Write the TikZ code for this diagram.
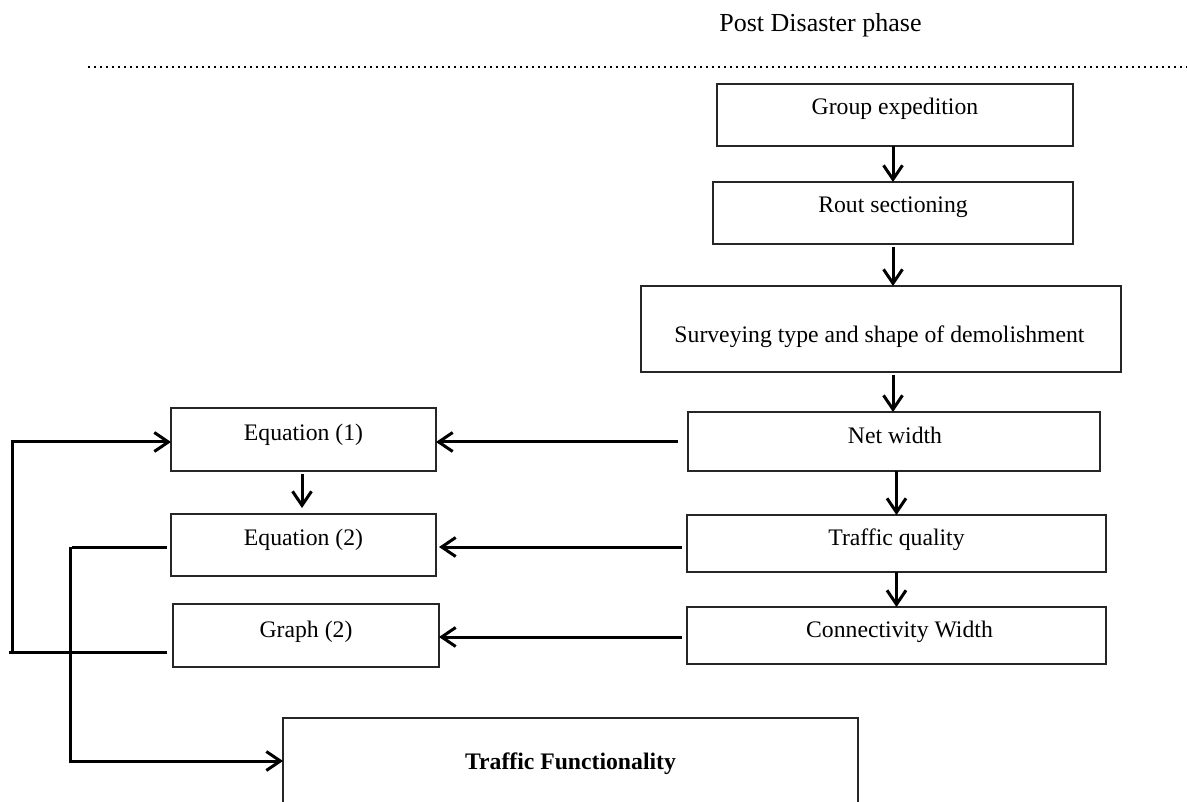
\documentclass[tikz,border=0pt]{standalone}
\usepackage{fontspec}
\setmainfont{Liberation Serif}
\usetikzlibrary{arrows.meta,calc}
\begin{document}
\begin{tikzpicture}[x=1pt,y=-1pt,
  box/.style={draw=black!85,line width=1.4pt,inner sep=0pt,outer sep=0pt,rectangle},
  txt/.style={anchor=base,inner sep=0pt,font=\fontsize{23.7}{28}\selectfont},
  conn/.style={line width=3pt,black},
  arr/.style={conn,-{Straight Barb[length=14pt,width=19pt,line width=3pt]}},
  dotline/.style={line width=2.6pt,dash pattern=on 2.4pt off 3.6pt,black}]
\clip (0,0) rectangle (1187,802);
\fill[white] (0,0) rectangle (1187,802);
% title and separator
\node[anchor=base,inner sep=0pt,font=\fontsize{26}{30}\selectfont] (post) at (820.5,32) {Post Disaster phase};
\coordinate (dl) at (88,67);
\coordinate (dr) at (1187,67);
\draw[dotline] (dl) -- (dr);
% right column boxes
\node[box,minimum width=356,minimum height=62] (g1) at (895,115) {};
\node[box,minimum width=360,minimum height=62] (g2) at (893,213) {};
\node[box,minimum width=480,minimum height=86] (g3) at (881,329) {};
\node[box,minimum width=412,minimum height=59] (g4) at (894,441.5) {};
\node[box,minimum width=419,minimum height=57] (g5) at (896.5,543.5) {};
\node[box,minimum width=419,minimum height=57] (g6) at (896.5,635.5) {};
% left column boxes
\node[box,minimum width=265,minimum height=63] (e1) at (303.5,439.5) {};
\node[box,minimum width=265,minimum height=62] (e2) at (303.5,545) {};
\node[box,minimum width=266,minimum height=63] (gr) at (306,635.5) {};
\node[box,minimum width=575,minimum height=100] (tf) at (570.5,768) {};
% texts
\node[txt] (g1t) at (895,115) {Group expedition};
\node[txt] (g2t) at (893,213) {Rout sectioning};
\node[txt] (g3t) at (879.5,343) {Surveying type and shape of demolishment};
\node[txt] (g4t) at (895,443) {Net width};
\node[txt] (g5t) at (896.5,545) {Traffic quality};
\node[txt] (g6t) at (899.5,637) {Connectivity Width};
\node[txt] (e1t) at (303.5,440) {Equation (1)};
\node[txt] (e2t) at (303.5,545) {Equation (2)};
\node[txt] (grt) at (306,637) {Graph (2)};
\node[txt,font=\fontsize{23.7}{28}\selectfont\bfseries] (tft) at (570.5,769) {Traffic Functionality};
% vertical arrows, right column
\draw[arr] (g2.north |- g1.south) -- (g2.north);
\draw[arr] ($(g2.south)+(0,3)$) -- (g2.south |- g3.north);
\draw[arr] ($(g3.south -| g2.south)+(0,3)$) -- (g4.north -| g2.south);
\draw[arr] (g4.south -| g5.north) -- (g5.north);
\draw[arr] (g5.south) -- (g6.north);
% vertical arrow, left column
\draw[arr] ($(e1.south)+(-1.5,3)$) -- ($(e2.north)+(-1.5,-6)$);
% horizontal arrows
\coordinate (a4) at ($(g4.west)+(-10,0.5)$);
\coordinate (a5) at ($(g5.west)+(-5,3.5)$);
\coordinate (a6) at ($(g6.west)+(-5,1.5)$);
\draw[arr] (a4) -- (e1.east |- a4);
\draw[arr] (a5) -- ($(e2.east |- a5)+(3,0)$);
\draw[arr] (a6) -- (gr.east |- a6);
% feedback loop from Graph (2) to Equation (1)
\coordinate (l1) at ($(gr.west)+(-6,16.5)$);
\coordinate (l2) at (9,652);
\coordinate (l3) at (12,652);
\draw[conn] (l1) -- (l2);
\draw[arr] (l3) |- ($(e1.west)+(0,2.5)$);
% from Equation (2) to Traffic Functionality
\coordinate (m1) at ($(e2.west)+(-4,2)$);
\coordinate (m2) at (72,547);
\coordinate (m3) at (70,547);
\draw[conn] (m1) -- (m2);
\draw[arr] (m3) |- ($(tf.west)+(0,-7)$);
\end{tikzpicture}
\end{document}
